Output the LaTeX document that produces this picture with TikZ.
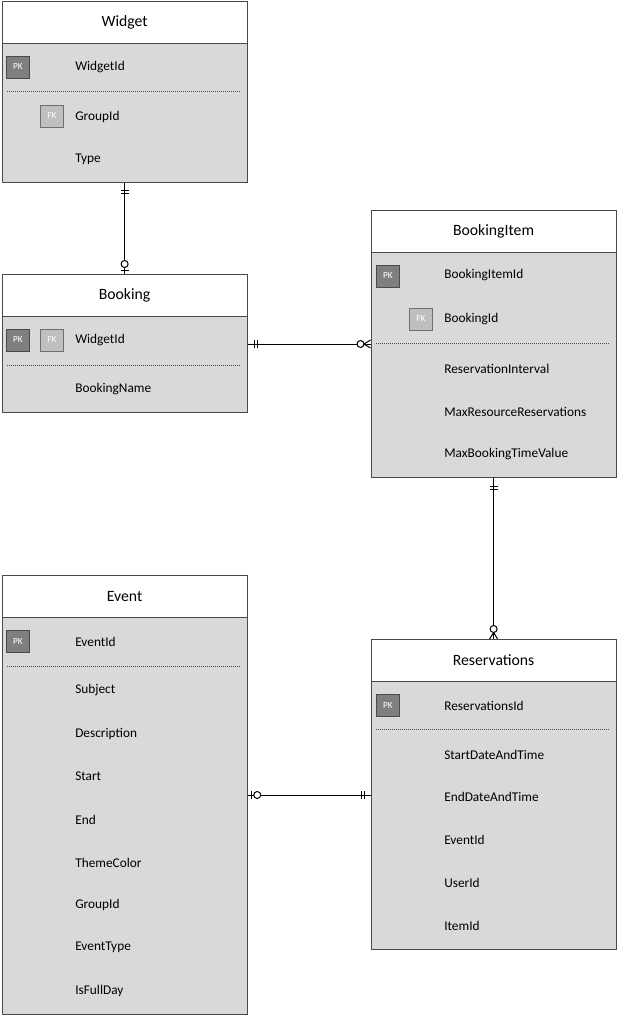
\documentclass[tikz,border=0pt]{standalone}
\usepackage{fontspec}
\setmainfont{Carlito}
\usetikzlibrary{calc}
\definecolor{rowfill}{HTML}{D9D9D9}
\definecolor{edgec}{HTML}{4A4A4A}
\definecolor{pkfill}{HTML}{7F7F7F}
\definecolor{fkfill}{HTML}{BFBFBF}
\definecolor{fkedge}{HTML}{6E6E6E}
\begin{document}
\begin{tikzpicture}[x=0.75pt,y=-0.75pt,
  hdr/.style={draw=edgec, line width=0.9pt, fill=white, anchor=north west, inner sep=0pt,
    minimum width=183.75pt, minimum height=31.5pt, font=\fontsize{11.8}{13}\selectfont},
  body/.style={draw=edgec, line width=0.9pt, fill=rowfill, anchor=north west, inner sep=0pt,
    minimum width=183.75pt},
  field/.style={font=\fontsize{10}{12}\selectfont, anchor=west, inner sep=0pt},
  pkbox/.style={draw=edgec, line width=0.6pt, fill=pkfill, text=white, minimum width=17pt,
    minimum height=16.5pt, inner sep=0pt, font=\fontsize{7}{8}\selectfont},
  fkbox/.style={pkbox, fill=fkfill, draw=fkedge},
  sepline/.style={draw=edgec, line width=0.5pt, dash pattern=on 0.75pt off 0.75pt},
  rel/.style={draw=black, line width=0.75pt},
  ring/.style={draw=black, line width=0.75pt, fill=white}
]
\useasboundingbox (0,0) rectangle (617,1016);

% ---------------- Widget ----------------
\node[hdr] (widgetH) at (1.5,1) {Widget};
\node[body, minimum height=104.25pt] (widgetB) at (1.5,43) {};
\node[pkbox] (wpk) at (18,67) {PK};
\node[field] (w1) at (75,67.5) {WidgetId};
\draw[sepline] (7,91) -- (240,91);
\node[fkbox] (wfk) at (52,116) {FK};
\node[field] (w2) at (75,116.5) {GroupId};
\node[field] (w3) at (75,159.5) {Type};

% ---------------- Booking ----------------
\node[hdr] (bookingH) at (1.5,274) {Booking};
\node[body, minimum height=72pt] (bookingB) at (1.5,316) {};
\node[pkbox] (bpk) at (18,340) {PK};
\node[fkbox] (bfk) at (52,340) {FK};
\node[field] (b1) at (75,340.5) {WidgetId};
\draw[sepline] (7,365) -- (240,365);
\node[field] (b2) at (75,389.5) {BookingName};

% ---------------- BookingItem ----------------
\node[hdr] (itemH) at (370.5,210) {BookingItem};
\node[body, minimum height=168.75pt] (itemB) at (370.5,252) {};
\node[pkbox] (ipk) at (388,276) {PK};
\node[field] (i1) at (444,275.5) {BookingItemId};
\node[fkbox] (ifk) at (421,319) {FK};
\node[field] (i2) at (444,319.5) {BookingId};
\draw[sepline] (376,343) -- (609,343);
\node[field] (i3) at (444,368.5) {ReservationInterval};
\node[field] (i4) at (444,411.5) {MaxResourceReservations};
\node[field] (i5) at (444,454.5) {MaxBookingTimeValue};

% ---------------- Event ----------------
\node[hdr] (eventH) at (1.5,575) {Event};
\node[body, minimum height=297.75pt] (eventB) at (1.5,617) {};
\node[pkbox] (epk) at (18,641) {PK};
\node[field] (e1) at (75,641.5) {EventId};
\draw[sepline] (7,666) -- (240,666);
\node[field] (e2) at (75,690.5) {Subject};
\node[field] (e3) at (75,733.5) {Description};
\node[field] (e4) at (75,776.5) {Start};
\node[field] (e5) at (75,819.5) {End};
\node[field] (e6) at (75,862.5) {ThemeColor};
\node[field] (e7) at (75,904.5) {GroupId};
\node[field] (e8) at (75,947.5) {EventType};
\node[field] (e9) at (75,990.5) {IsFullDay};

% ---------------- Reservations ----------------
\node[hdr] (resH) at (370.5,639) {Reservations};
\node[body, minimum height=201pt] (resB) at (370.5,681) {};
\node[pkbox] (rpk) at (388,705) {PK};
\node[field] (r1) at (444,705.5) {ReservationsId};
\draw[sepline] (376,729) -- (609,729);
\node[field] (r2) at (444,754.5) {StartDateAndTime};
\node[field] (r3) at (444,796.5) {EndDateAndTime};
\node[field] (r4) at (444,839.5) {EventId};
\node[field] (r5) at (444,882.5) {UserId};
\node[field] (r6) at (444,925.5) {ItemId};

% ---------------- Relations ----------------
% Widget (one and only one) -- Booking (zero or one)
\draw[rel] (widgetB.south) -- (bookingH.north);
\draw[rel] ($(widgetB.south)+(-4,7)$) -- ++(8,0);
\draw[rel] ($(widgetB.south)+(-4,10.5)$) -- ++(8,0);
\draw[rel] ($(bookingH.north)+(-4,-4)$) -- ++(8,0);
\draw[ring] ($(bookingH.north)+(0,-10)$) circle[radius=3.5];

% Booking (one and only one) -- BookingItem (zero or many)
\coordinate (lnA) at (0,344);
\draw[rel] (bookingB.east |- lnA) -- (itemB.west |- lnA);
\draw[rel] ($(bookingB.east |- lnA)+(6.5,-4)$) -- ++(0,8);
\draw[rel] ($(bookingB.east |- lnA)+(10,-4)$) -- ++(0,8);
\draw[rel] ($(itemB.west |- lnA)+(0,-4)$) -- ($(itemB.west |- lnA)+(-6.5,0)$) -- ($(itemB.west |- lnA)+(0,4)$);
\draw[ring] ($(itemB.west |- lnA)+(-10,0)$) circle[radius=3.5];

% BookingItem (one and only one) -- Reservations (zero or many)
\draw[rel] (itemB.south) -- (resH.north);
\draw[rel] ($(itemB.south)+(-4,8)$) -- ++(8,0);
\draw[rel] ($(itemB.south)+(-4,11.5)$) -- ++(8,0);
\draw[rel] ($(resH.north)+(-4,0)$) -- ($(resH.north)+(0,-6.5)$) -- ($(resH.north)+(4,0)$);
\draw[ring] ($(resH.north)+(0,-10)$) circle[radius=3.5];

% Event (zero or one) -- Reservations (one and only one)
\coordinate (lnB) at (0,795);
\draw[rel] (eventB.east |- lnB) -- (resB.west |- lnB);
\draw[rel] ($(eventB.east |- lnB)+(3.5,-4)$) -- ++(0,8);
\draw[ring] ($(eventB.east |- lnB)+(9.5,0)$) circle[radius=3.5];
\draw[rel] ($(resB.west |- lnB)+(-9.5,-4)$) -- ++(0,8);
\draw[rel] ($(resB.west |- lnB)+(-6,-4)$) -- ++(0,8);
\end{tikzpicture}
\end{document}
